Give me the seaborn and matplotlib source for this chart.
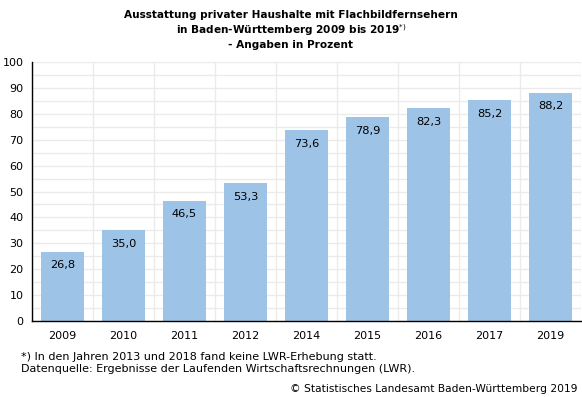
import matplotlib
matplotlib.use("Agg")
import matplotlib.pyplot as plt
import seaborn as sns
import pandas as pd
from matplotlib.ticker import MultipleLocator

years = ["2009", "2010", "2011", "2012", "2014", "2015", "2016", "2017", "2019"]
values = [26.8, 35.0, 46.5, 53.3, 73.6, 78.9, 82.3, 85.2, 88.2]
labels = ["26,8", "35,0", "46,5", "53,3", "73,6", "78,9", "82,3", "85,2", "88,2"]

df = pd.DataFrame({"Jahr": years, "Anteil": values})

sns.set_style("white")
plt.rcParams["font.family"] = ["DejaVu Sans"]

fig = plt.figure(figsize=(5.82, 3.97), dpi=100)
ax = fig.add_axes([32 / 582, 1 - 321 / 397, 549 / 582, 259 / 397])

sns.barplot(data=df, x="Jahr", y="Anteil", color="#9DC3E6", width=0.72,
            saturation=1, edgecolor="none", linewidth=0, ax=ax, zorder=3)

ax.set_ylim(0, 100)
ax.set_xlim(-0.5, len(years) - 0.5)
ax.yaxis.set_major_locator(MultipleLocator(10))
ax.yaxis.set_minor_locator(MultipleLocator(5))
ax.set_xticks([i - 0.5 for i in range(len(years) + 1)], minor=True)
ax.grid(axis="y", which="both", color="#EBEBEB", linewidth=1, zorder=0)
ax.grid(axis="x", which="minor", color="#EBEBEB", linewidth=1, zorder=0)
ax.set_axisbelow(True)

ax.tick_params(axis="x", which="major", length=0, labelsize=8, pad=7, colors="black")
ax.tick_params(axis="x", which="minor", length=4, width=1, color="black", direction="out")
ax.tick_params(axis="y", which="major", length=4, width=1, color="black",
               labelsize=8, pad=2, labelcolor="black")
ax.tick_params(axis="y", which="minor", length=0)

for s in ["top", "right"]:
    ax.spines[s].set_visible(False)
for s in ["left", "bottom"]:
    ax.spines[s].set_color("black")
    ax.spines[s].set_linewidth(1)
ax.spines["bottom"].set_zorder(5)

ax.set_xlabel("")
ax.set_ylabel("")

for i, (v, lab) in enumerate(zip(values, labels)):
    ax.annotate(lab, (i, v), xytext=(0, -10), textcoords="offset points",
                ha="center", va="center", fontsize=8.2, color="black", zorder=6)

fig.text(291 / 582, 1 - 30 / 397,
         "Ausstattung privater Haushalte mit Flachbildfernsehern\n"
         "in Baden-Württemberg 2009 bis 2019$^{*)}$\n"
         "- Angaben in Prozent",
         ha="center", va="center", fontsize=7.6, fontweight="bold",
         linespacing=1.25, color="black")

fig.text(21 / 582, 1 - 363 / 397,
         "*) In den Jahren 2013 und 2018 fand keine LWR-Erhebung statt.\n"
         "Datenquelle: Ergebnisse der Laufenden Wirtschaftsrechnungen (LWR).",
         ha="left", va="center", fontsize=8, linespacing=1.15, color="black")
fig.text(578 / 582, 1 - 389 / 397,
         "© Statistisches Landesamt Baden-Württemberg 2019",
         ha="right", va="center", fontsize=7.7, color="black")

fig.savefig("out.png", dpi=100)
